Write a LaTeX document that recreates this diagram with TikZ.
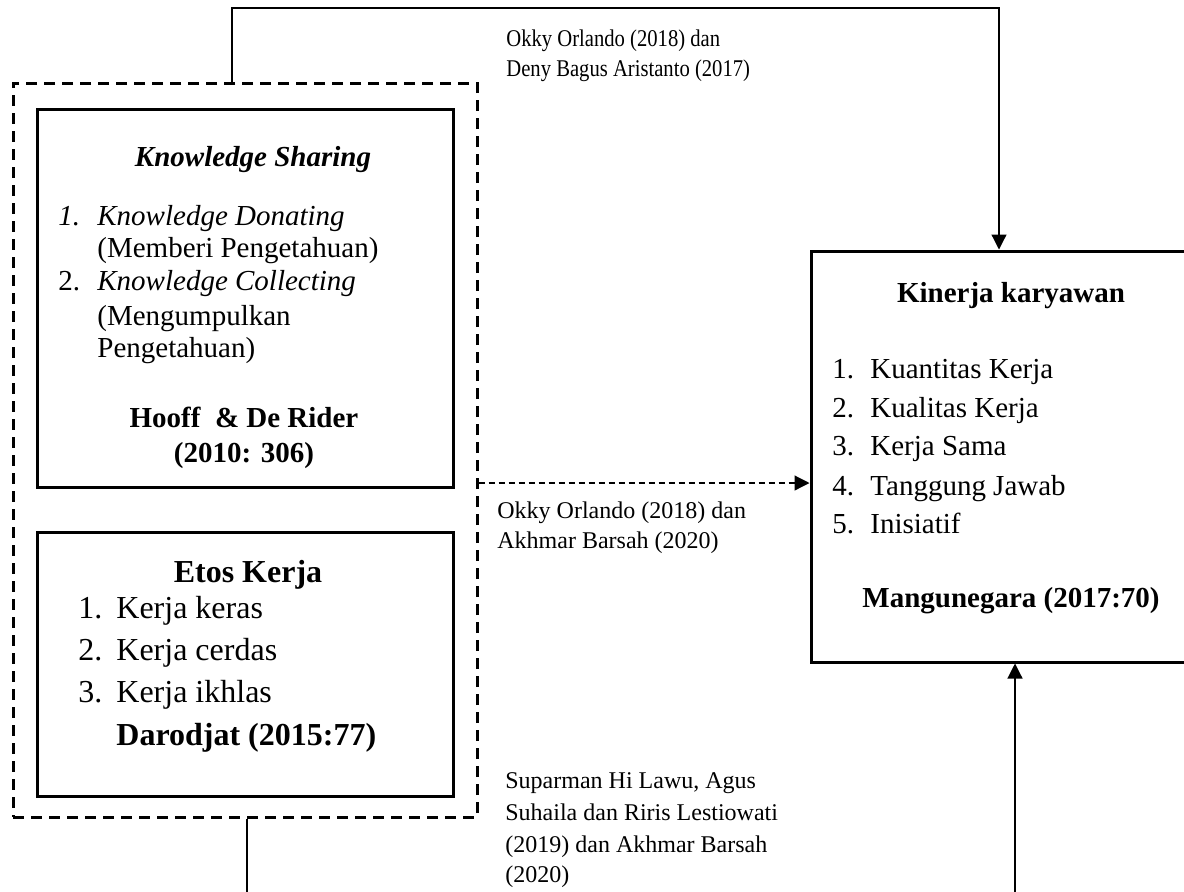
\documentclass[tikz,border=0pt]{standalone}
\usepackage{fontspec}
\setmainfont{Liberation Serif}
\usetikzlibrary{arrows.meta,fit,calc}
\begin{document}
\begin{tikzpicture}[x=0.5pt,y=-0.5pt,
  box/.style={draw,line width=1.5pt,inner sep=0pt},
  dbox/.style={draw,line width=1.5pt,dash pattern=on 5.5pt off 3.5pt,inner sep=0pt},
  conn/.style={line width=0.6pt},
  tip/.style={-{Triangle[length=7.5pt,width=7.5pt]}},
  txt/.style={anchor=base west,inner sep=0pt,font=\fontsize{14.5}{17}\selectfont},
  ctxt/.style={anchor=base,inner sep=0pt,font=\fontsize{14.5}{17}\selectfont},
  etxt/.style={anchor=base west,inner sep=0pt,font=\fontsize{16}{19}\selectfont},
  lbl/.style={anchor=base west,inner sep=0pt,font=\fontsize{12}{14}\selectfont}
]
\useasboundingbox (0,0) rectangle (1184,891);
\clip (0,0) rectangle (1184,891);

% boxes
\node[dbox,fit={(13,83)(477,817)}] (outer) {};
\node[box,fit={(37,109)(453,487)}] (ks) {};
\node[box,fit={(37,532)(453,796)}] (ek) {};
\node[box,fit={(811,251)(1200,662)}] (kin) {};

% Knowledge sharing text
\node[ctxt,font=\fontsize{14.5}{17}\selectfont\bfseries\itshape] (ksT) at (253,166) {Knowledge Sharing};
\node[txt] (ks1n) at (58,225) {\itshape 1.};
\node[txt] (ks1) at (97,225) {\itshape Knowledge Donating};
\node[txt] (ks1b) at (97,257) {(Memberi Pengetahuan)};
\node[txt] (ks2n) at (58,290) {2.};
\node[txt] (ks2) at (97,290) {\itshape Knowledge Collecting};
\node[txt] (ks2b) at (97,325) {(Mengumpulkan};
\node[txt] (ks2c) at (97,357) {Pengetahuan)};
\node[ctxt,font=\fontsize{14.5}{17}\selectfont\bfseries] (ksR1) at (244,427) {Hooff\ \ \& De Rider};
\node[ctxt,font=\fontsize{14.5}{17}\selectfont\bfseries] (ksR2) at (244,462) {(2010: 306)};

% Etos kerja text
\node[anchor=base,inner sep=0pt,font=\fontsize{16}{19}\selectfont\bfseries] (ekT) at (248,582) {Etos Kerja};
\node[etxt] (ek1n) at (78,618) {1.};
\node[etxt] (ek1) at (116,618) {Kerja keras};
\node[etxt] (ek2n) at (78,660) {2.};
\node[etxt] (ek2) at (116,660) {Kerja cerdas};
\node[etxt] (ek3n) at (78,702) {3.};
\node[etxt] (ek3) at (116,702) {Kerja ikhlas};
\node[etxt,font=\fontsize{16}{19}\selectfont\bfseries] (ekR) at (116,745) {Darodjat (2015:77)};

% Kinerja text
\node[ctxt,font=\fontsize{14.5}{17}\selectfont\bfseries] (kinT) at (1011,302) {Kinerja karyawan};
\node[txt] (k1n) at (832,378) {1.};
\node[txt] (k1) at (870,378) {Kuantitas Kerja};
\node[txt] (k2n) at (832,417) {2.};
\node[txt] (k2) at (870,417) {Kualitas Kerja};
\node[txt] (k3n) at (832,455) {3.};
\node[txt] (k3) at (870,455) {Kerja Sama};
\node[txt] (k4n) at (832,495) {4.};
\node[txt] (k4) at (870,495) {Tanggung Jawab};
\node[txt] (k5n) at (832,533) {5.};
\node[txt] (k5) at (870,533) {Inisiatif};
\node[ctxt,font=\fontsize{14.5}{17}\selectfont\bfseries] (kinR) at (1011,607) {Mangunegara (2017:70)};

% labels
\node[lbl] (l1a) at (506,46) {\scalebox{0.86}[1]{Okky Orlando (2018) dan}};
\node[lbl] (l1b) at (506,76) {\scalebox{0.86}[1]{Deny Bagus Aristanto (2017)}};
\node[lbl] (l2a) at (497,518) {Okky Orlando (2018) dan};
\node[lbl] (l2b) at (497,548) {Akhmar Barsah (2020)};
\node[lbl] (l3a) at (505,788) {Suparman Hi Lawu, Agus};
\node[lbl] (l3b) at (505,820) {Suhaila dan Riris Lestiowati};
\node[lbl] (l3c) at (505,852) {(2019) dan Akhmar Barsah};
\node[lbl] (l3d) at (505,882) {(2020)};

% connectors
\coordinate (tx) at (232,8);
\coordinate (tr) at (999,8);
\draw[conn,tip] (tx |- outer.north) -- (tx) -- (tr) -- (tr |- kin.north);
\coordinate (dy) at (600,483);
\draw[conn,dash pattern=on 3pt off 2pt,tip] (dy -| outer.east) -- (dy -| kin.west);
\coordinate (bl) at (247,900);
\draw[conn] (bl |- outer.south) -- (bl);
\coordinate (br) at (1015,900);
\draw[conn,tip] (br) -- (br |- kin.south);
\end{tikzpicture}
\end{document}
